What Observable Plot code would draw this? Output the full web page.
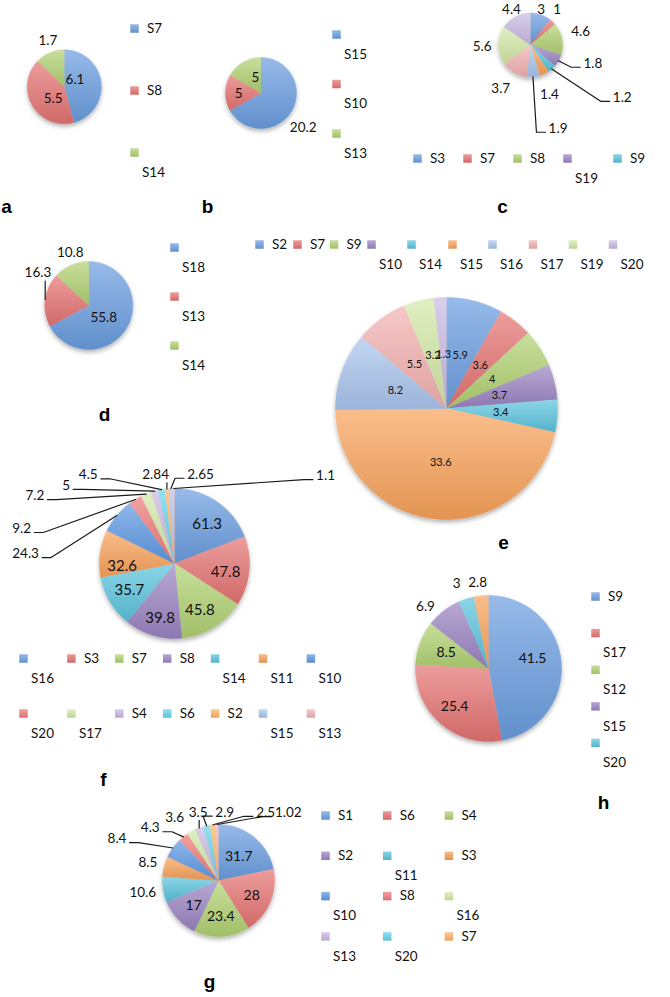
<!DOCTYPE html>
<html><head><meta charset="utf-8">
<script src="https://cdn.jsdelivr.net/npm/d3@7"></script>
<script src="https://cdn.jsdelivr.net/npm/@observablehq/plot@0.6"></script>
<style>body{margin:0;background:#fff}</style>
</head><body><div id="chart"></div>
<script>
// ---------------- data ----------------
const aKeys = ["S7","S8","S14"];
const aValues = [6.1,5.5,1.7];
const bKeys = ["S15","S10","S13"];
const bValues = [20.2,5,5];
const cKeys = ["S3","S7","S8","S19","S9"];
const cValues = [3,1,4.6,1.8,1.2,1.4,1.9,3.7,5.6,4.4];
const dKeys = ["S18","S13","S14"];
const dValues = [55.8,16.3,10.8];
const eKeys = ["S2","S7","S9","S10","S14","S15","S16","S17","S19","S20"];
const eValues = [5.9,3.6,4,3.7,3.4,33.6,8.2,5.5,3.2,1.3];
const fKeys = ["S16","S3","S7","S8","S14","S11","S10","S20","S17","S4","S6","S2","S15","S13"];
const fValues = [61.3,47.8,45.8,39.8,35.7,32.6,24.3,9.2,7.2,5,4.5,2.84,2.65,1.1];
const gKeys = ["S1","S6","S4","S2","S11","S3","S10","S8","S16","S13","S20","S7"];
const gValues = [31.7,28,23.4,17,10.6,8.5,8.4,4.3,3.6,3.5,2.9,2.5,1.02];
const hKeys = ["S9","S17","S12","S15","S20"];
const hValues = [41.5,25.4,8.5,6.9,3,2.8];
const panelLetters = ["a","b","c","d","e","f","g","h"];

// ---------------- style / layout ----------------
const palette = {
  blue:"#6a9ddf", red:"#e47372", green:"#b0d172", purple:"#9a83c1", cyan:"#5bc3dd", orange:"#f8a25a",
  blue2:"#5e98e3", red2:"#ec7a79", lblue:"#aac5ee", pink:"#f3b1b0", lgreen:"#d3e8a6",
  lpurple:"#c9b9e3", lcyan:"#66d2ee", lorange:"#fbb46a"
};
const c6 = ["blue","red","green","purple","cyan","orange"];
const c10 = [...c6,"lblue","pink","lgreen","lpurple"];
const c14 = [...c6,"blue2","red2","lgreen","lpurple","lcyan","lorange","lblue","pink"];
const c13 = [...c6,"blue2","red2","lgreen","lpurple","lcyan","lorange","pink"];

// place: per slice -> null (mid angle, kIn) | [angleDeg|null, radiusFactor, leaderType]
const panels = [
  {keys:aKeys, values:aValues, cx:63.8, cy:86.3, r:37, colors:c6, fin:13.5, fout:13.5, kIn:0.45,
   place:[[55.7,0.35],[223.3,0.44],[340.3,1.31]],
   legend:{x0:134, y0:28, dx:0, dy:62, cols:1, wrap:["S14"]}, letter:[6,212]},
  {keys:bKeys, values:bValues, cx:260.5, cy:92.5, r:35.5, colors:c6, fin:13.5, fout:13.5, kIn:0.5,
   place:[[129,1.53],[269.5,0.63],[340,0.46]],
   legend:{x0:336, y0:34, dx:0, dy:49.5, cols:1, wrap:["S15","S10","S13"]}, letter:[207,212]},
  {keys:cKeys, values:cValues, cx:530, cy:44.5, r:32, colors:c10, fin:13.5, fout:13.5, kIn:0.5,
   place:[[16.8,1.159],[37.3,1.375],[75.1,1.62],[106.3,2.03,"L"],[119.7,3.3,"L"],[158.9,1.65],[161.7,2.74,"L"],[214.5,1.64],[268,1.51],[331.8,1.258]],
   legend:{x0:417, y0:158, dx:50, dy:0, cols:5, wrap:["S19"]}, letter:[502,212]},
  {keys:dKeys, values:dValues, cx:88.3, cy:305, r:44, colors:c6, fin:13.5, fout:13.5, kIn:0.5,
   place:[[129.4,0.44],[302.5,1.37,"U"],[340.8,1.28]],
   legend:{x0:174, y0:247, dx:0, dy:49, cols:1, wrap:["S18","S13","S14"]}, letter:[104,420]},
  {keys:eKeys, values:eValues, cx:446, cy:408, r:111, colors:c10, fin:11, fout:11, kIn:0.49,
   place:[],
   legend:{xs:[259,297,333.5,371,411,452,492,532.5,572.5,612.5], y0:244, cols:10, wrap:["S10","S14","S15","S16","S17","S19","S20"]}, letter:[503,548]},
  {keys:fKeys, values:fValues, cx:174, cy:563, r:75, colors:c14, fin:15, fout:13.5, kIn:0.7,
   place:[[39.5,0.685],[99.6,0.69],[151.5,0.71],[194.7,0.76],[239.2,0.70],[266.7,0.70],
          [273.8,1.99,"R"],[282.9,2.09,"R"],[295.9,2.07,"R"],[305.8,1.78,"R"],[315.8,1.65,"R"],
          [348,1.21,"U"],[16.3,1.24,"L"],[59.8,2.33,"L"]],
   legend:{x0:23, y0:658, dx:47.9, dy:55, cols:7, wrap:["S16","S14","S11","S10","S20","S17","S15","S13"]}, letter:[103,785]},
  {keys:gKeys, values:gValues, cx:218, cy:880, r:56, colors:c13, fin:14, fout:13.5, kIn:0.63,
   place:[[40.2,0.56],[114.2,0.65],[176.3,0.64],[224.6,0.63],[260.5,1.37],[283.8,1.30],[292.4,1.96,"R"],
          [307.7,1.54,"R"],[325.3,1.375],[343.3,1.27,"U"],[5.2,1.225,"L"],[34.6,1.48,"L"],[45.8,1.74,"L"]],
   legend:{x0:325, y0:815, dx:61.7, dy:40.3, cols:3, wrap:["S11","S10","S16","S13","S20"]}, letter:[209,987]},
  {keys:hKeys, values:hValues, cx:488, cy:668, r:73, colors:c6, fin:14, fout:13.5, kIn:0.62,
   place:[[76.8,0.62],[null,0.7],null,[314.5,1.21],[339.4,1.24],[352.7,1.18]],
   legend:{x0:595, y0:596, dx:0, dy:36.6, cols:1, wrap:["S17","S12","S15","S20"]}, letter:[603,808]}
];

// ---------------- build tables ----------------
const textW = (t, s) => [...t].reduce((w, c) => w + (c === "." ? 0.26 : 0.58), 0) * s;
const rad = a => a * Math.PI / 180;
const slicePts = [], labelRows = [], leaderPts = [], legSq = [], legTx = [], letterRows = [];

panels.forEach((p, pi) => {
  const total = d3.sum(p.values);
  let acc = 0;
  p.values.forEach((v, i) => {
    const a0 = acc / total * 360, a1 = (acc + v) / total * 360;
    acc += v;
    const id = pi + "-" + i, fill = `url(#grad-${p.colors[i]})`;
    const n = Math.max(2, Math.ceil(a1 - a0) + 1);
    slicePts.push({id, x: p.cx, y: p.cy, fill});
    for (let j = 0; j <= n; j++) {
      const a = rad(a0 + (a1 - a0) * j / n);
      slicePts.push({id, x: p.cx + p.r * Math.sin(a), y: p.cy - p.r * Math.cos(a), fill});
    }
    const mid = (a0 + a1) / 2;
    const spec = p.place[i];
    let ang = mid, k = p.kIn, type = null;
    if (Array.isArray(spec)) { if (spec[0] != null) ang = spec[0]; k = spec[1]; type = spec[2] || null; }
    const lx = p.cx + k * p.r * Math.sin(rad(ang)), ly = p.cy - k * p.r * Math.cos(rad(ang));
    const text = String(v), size = k > 1 ? p.fout : p.fin;
    labelRows.push({x: lx, y: ly, text, size});
    if (type) {
      const ex = p.cx + p.r * Math.sin(rad(mid)), ey = p.cy - p.r * Math.cos(rad(mid));
      const hw = textW(text, size) / 2;
      let pts;
      if (type === "R") pts = [[ex, ey], [lx + hw + 12, ly + 4], [lx + hw + 3, ly + 4]];
      else if (type === "L") pts = [[ex, ey], [lx - hw - 12, ly + 4], [lx - hw - 3, ly + 4]];
      else pts = [[ex, ey], [ex, ly + 8]];
      pts.forEach(([x, y]) => leaderPts.push({id, x, y}));
    }
  });
  const L = p.legend;
  p.keys.forEach((key, i) => {
    const col = i % L.cols, row = Math.floor(i / L.cols);
    const x = L.xs ? L.xs[col] : L.x0 + col * L.dx;
    const y = L.y0 + row * (L.dy || 0);
    legSq.push({x, y, fill: `url(#grad-${p.colors[i]})`});
    const wrapped = L.wrap.includes(key);
    legTx.push({x: wrapped ? x + 7.5 : x + 12.5, y: wrapped ? y + 20 : y, text: key});
  });
  letterRows.push({x: p.letter[0], y: p.letter[1], text: panelLetters[pi]});
});

// ---------------- plot ----------------
const svg = Plot.plot({
  width: 670, height: 997, margin: 0,
  x: {domain: [0, 670], range: [0, 670], axis: null},
  y: {domain: [0, 997], range: [0, 997], axis: null},
  color: {type: "identity"},
  style: {fontFamily: "Lato, 'Open Sans', sans-serif", background: "#fff", color: "#111"},
  marks: [
    Plot.line(slicePts, {x: "x", y: "y", z: "id", fill: "fill", stroke: "fill", strokeWidth: 0.5, ariaDescription: "slices"}),
    Plot.line(leaderPts, {x: "x", y: "y", z: "id", stroke: "#1a1a1a", strokeWidth: 1.2}),
    Plot.text(labelRows, {x: "x", y: "y", text: "text", fontSize: "size", fill: "#111", textAnchor: "middle", lineAnchor: "middle"}),
    Plot.dot(legSq, {x: "x", y: "y", fill: "fill", symbol: "square", r: 4.8, stroke: null}),
    Plot.text(legTx, {x: "x", y: "y", text: "text", fontSize: 13.5, fill: "#111", textAnchor: "start", lineAnchor: "middle"}),
    Plot.text(letterRows, {x: "x", y: "y", text: "text", fontSize: 19, fontWeight: "bold", fill: "#000",
      fontFamily: "'Liberation Sans', Arial, sans-serif", textAnchor: "middle", lineAnchor: "bottom"})
  ]
});

const defs = d3.select(svg).insert("defs", ":first-child");
for (const [name, base] of Object.entries(palette)) {
  const lg = defs.append("linearGradient").attr("id", "grad-" + name)
    .attr("x1", 0).attr("y1", 0).attr("x2", 0).attr("y2", 1);
  lg.append("stop").attr("offset", "0%").attr("stop-color", d3.interpolateRgb(base, "#fff")(0.3));
  lg.append("stop").attr("offset", "100%").attr("stop-color", d3.color(base).darker(0.25).formatHex());
}
const f = defs.append("filter").attr("id", "shadow").attr("x", "-20%").attr("y", "-20%").attr("width", "140%").attr("height", "150%");
f.append("feDropShadow").attr("dx", 0).attr("dy", 2.5).attr("stdDeviation", 2).attr("flood-color", "#000").attr("flood-opacity", 0.3);
d3.select(svg).select('g[aria-description="slices"]').attr("filter", "url(#shadow)");

document.getElementById("chart").appendChild(svg);
</script>
</body></html>
